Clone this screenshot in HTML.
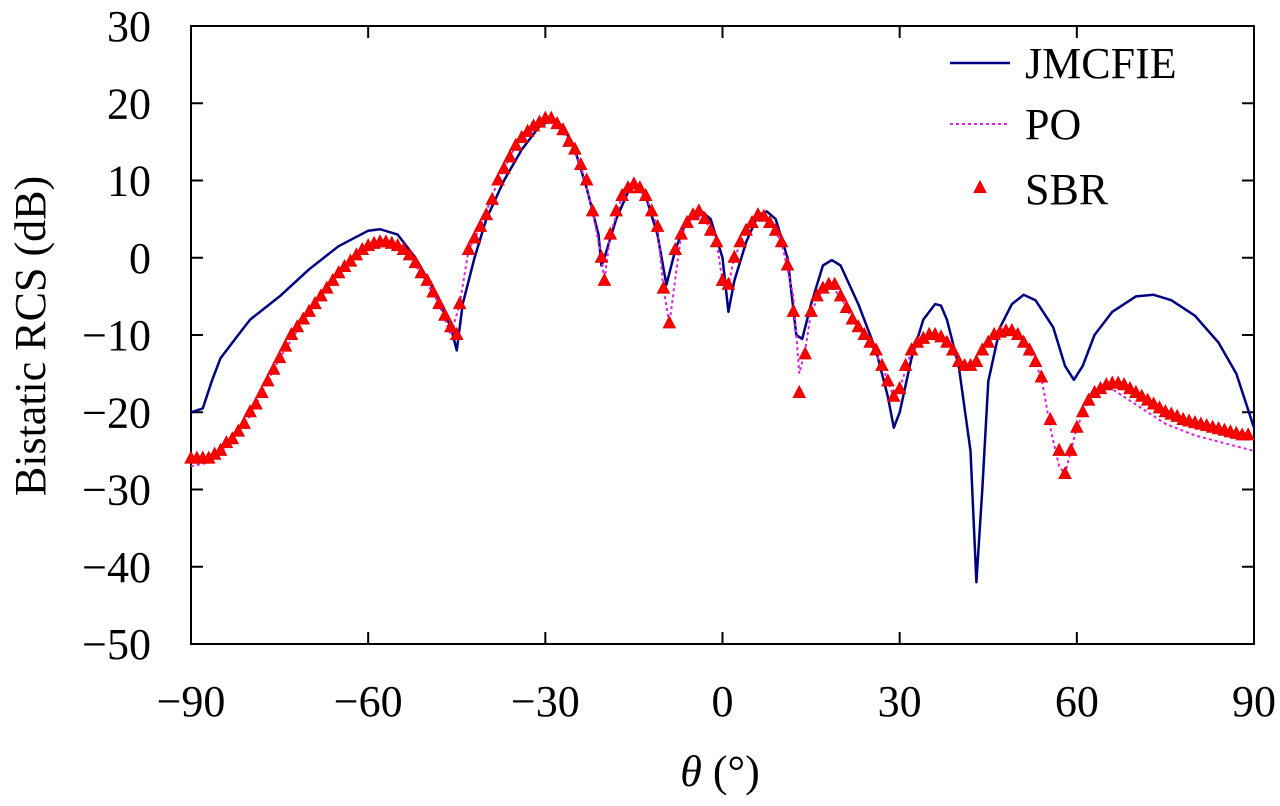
<!DOCTYPE html>
<html><head><meta charset="utf-8">
<style>
body{margin:0;background:#fff;}
svg text{font-family:"Liberation Serif","DejaVu Serif",serif;fill:#000;}
</style></head>
<body>
<svg id="chart" width="1280" height="801" xmlns="http://www.w3.org/2000/svg">
<g id="axes"></g>
<g id="series"></g>
<g id="legend"></g>
</svg>
<script>
const xTicks=[-90,-60,-30,0,30,60,90];
const yTicks=[30,20,10,0,-10,-20,-30,-40,-50];
const jmX=[-90,-88,-86.5,-85,-82,-80,-75,-70,-65,-60,-58,-55,-52,-49,-46,-45,-44,-42,-40,-37,-34,-31,-29,-27,-25,-23,-21,-20.5,-20,-18,-16,-15,-13,-11,-9.5,-8,-6,-4,-2,0,1,2,4,6,7.5,9,11,12.5,13.5,15,17,18.5,20,23,26,28,29,30,32,34,36,37,38,40,42,43,44,45,47,49,51,53,56,58,59.5,61,63,66,70,73,76,80,84,87,90];
const jmY=[-20,-19.5,-16,-13,-10,-8,-5,-1.5,1.5,3.5,3.7,3,0,-4,-9,-12,-6,0,5,10,14,17,17.8,17,14,9,3,-1,0,5,8.5,9.5,8,3,-3.5,1,5,6.3,5,0,-7,-3,2,5.5,6,5,0,-10,-10.5,-6,-1,-0.3,-1,-6,-12,-18,-22,-20,-13,-8,-6,-6.2,-8,-14,-25,-42,-30,-16,-9,-6,-4.8,-5.5,-9,-14,-15.8,-14,-10,-7,-5,-4.8,-5.5,-7.5,-11,-15,-22];
const sbrX=[-90,-89,-88,-87,-86,-85,-84,-83,-82,-81,-80,-79,-78,-77,-76,-75,-74,-73,-72,-71,-70,-69,-68,-67,-66,-65,-64,-63,-62,-61,-60,-59,-58,-57,-56,-55,-54,-53,-52,-51,-50,-49,-48,-47,-46,-45,-44.5,-43,-42,-41,-40,-39,-38,-37,-36,-35,-34,-33,-32,-31,-30,-29,-28,-27,-26,-25,-24,-23,-22,-20.5,-20,-19,-18,-17,-16,-15,-14,-13,-12,-11,-10,-9,-8,-7,-6,-5,-4,-3,-2,-1,0,1,2,3,4,5,6,7,8,9,10,11,12,13,14,15,16,17,18,19,20,21,22,23,24,25,26,27,28,29,30,31,32,33,34,35,36,37,38,39,40,41,42,43,44,45,46,47,48,49,50,51,52,53,54,55.5,57,58,59,60,61,62,63,64,65,66,67,68,69,70,71,72,73,74,75,76,77,78,79,80,81,82,83,84,85,86,87,88,89,90];
const sbrY=[-26,-26,-26,-26,-25.5,-25,-24,-23.5,-22.5,-21.5,-20,-19,-17.5,-16,-14.5,-13,-11.5,-10,-9,-8,-7,-6,-5,-4,-3,-2,-1.2,-0.5,0.3,1,1.5,1.8,2,2,1.8,1.5,1,0.3,-0.7,-2,-3,-4.5,-6,-7.5,-9,-10,-6,1,2.5,4,5.5,7.5,10,11.5,13,14.5,15.5,16.3,17,17.5,18,18,17.3,16.5,15,14,12,10,6,0,-3,3,6,8,9,9.5,9,8,6,4,-4,-8.5,1,3,4.5,5.5,6,5,3.5,2,-3,-3.5,0,2,3.5,4.5,5.5,5.3,4.5,3.5,2,-1,-7,-17.5,-12.5,-7,-5,-4,-3.5,-3.5,-5,-6.5,-8,-9,-10,-11,-12,-14,-16,-18,-17,-14,-12,-11,-10.5,-10,-10,-10.3,-11,-12,-13.5,-14,-14,-13.5,-12,-11,-10,-9.7,-9.5,-9.5,-10,-11,-12,-13.5,-15.5,-21,-25,-28,-25,-22,-20,-18.5,-17.5,-17,-16.5,-16.3,-16.3,-16.5,-17,-17.5,-18,-18.5,-19,-19.5,-20,-20.3,-20.6,-21,-21.2,-21.4,-21.6,-21.8,-22,-22.2,-22.4,-22.6,-22.8,-23,-23];
const poX=[-90,-87,-84,-80,-75,-70,-65,-60,-57,-54,-51,-48,-46,-44.5,-43,-41,-38,-35,-32,-30,-28,-26,-24,-22,-20.5,-20,-19,-17,-15,-13,-11,-10,-9,-7,-5,-3,-1,0,1,2,4,6,8,10,12,12.5,13,14,15,17,18,20,22,25,27,29,30,32,34,36,38,40,42,44,46,48,50,52,54,55.5,57,58,59,60,62,64,66,70,75,80,85,90];
const poY=[-27,-26.5,-24.5,-20.5,-13,-7,-2,1.5,2,1,-2,-6,-10,-6,1,4,10,14.5,17,18,17.3,15,12,6,0,-3,3,8,9.5,8,4,-4,-8.5,3,5.5,5,2,-3,-3.5,0,3.5,5.5,4.5,2,-5,-10,-15,-12,-7,-4,-3.5,-5,-8,-11,-14,-18,-17,-12,-10.5,-10,-11,-13.5,-14,-12,-10,-9.5,-10,-12,-15.5,-22,-27,-28,-25,-22,-18.5,-17,-17,-19,-21.5,-23,-24,-25];

const NS="http://www.w3.org/2000/svg";
const L=191,R=1254,T=26,B=644;
const sx=v=>L+(v+90)/180*(R-L);
const sy=v=>T+(30-v)/80*(B-T);
function mk(tag,attrs,parent,text){const e=document.createElementNS(NS,tag);for(const k in attrs)e.setAttribute(k,attrs[k]);if(text!==undefined)e.textContent=text;parent.appendChild(e);return e;}
const axes=document.getElementById('axes');
const fr=mk('rect',{x:L,y:T,width:R-L,height:B-T,fill:'none',stroke:'#000','stroke-width':2},axes);


const fmt=v=>v<0?'−'+Math.abs(v):String(v);
xTicks.forEach(v=>{
  const x=sx(v);
  const t1=mk('line',{x1:x,x2:x,y1:B,y2:B-12,stroke:'#000','stroke-width':2},axes);
  
  
  mk('line',{x1:x,x2:x,y1:T,y2:T+12,stroke:'#000','stroke-width':2},axes);
  const tx=mk('text',{x:x,y:716,'font-size':44,'text-anchor':'middle'},axes,fmt(v));
  
  
});
yTicks.forEach(v=>{
  const y=sy(v);
  const t1=mk('line',{x1:L,x2:L+12,y1:y,y2:y,stroke:'#000','stroke-width':2},axes);
  
  
  mk('line',{x1:R,x2:R-12,y1:y,y2:y,stroke:'#000','stroke-width':2},axes);
  const tx=mk('text',{x:151,y:y+15,'font-size':44,'text-anchor':'end'},axes,fmt(v));
  
  
});
const xt=mk('text',{x:720,y:786,'font-size':44,'text-anchor':'middle'},axes);


mk('tspan',{'font-style':'italic'},xt,'θ');mk('tspan',{},xt,' (°)');
const yt=mk('text',{x:0,y:0,'font-size':44,'text-anchor':'middle',transform:'translate(45,336) rotate(-90)'},axes,'Bistatic RCS (dB)');



const ser=document.getElementById('series');
const path=(xs,ys)=>xs.map((x,i)=>(i?'L':'M')+sx(x).toFixed(1)+','+sy(ys[i]).toFixed(1)).join('');
const jm=mk('path',{d:path(jmX,jmY),fill:'none',stroke:'#000080','stroke-width':2.5,'stroke-linejoin':'round'},ser);


const po=mk('path',{d:path(poX,poY),fill:'none',stroke:'#e020e0','stroke-width':2,'stroke-dasharray':'3,3'},ser);


const tri=(x,y)=>`${x},${y-7} ${x-6},${y+4.5} ${x+6},${y+4.5}`;
sbrX.forEach((v,i)=>{
  const p=mk('polygon',{points:tri(sx(v),sy(sbrY[i])),fill:'#ff0000',stroke:'#e00000','stroke-width':1},ser);
  
  
});

const lg=document.getElementById('legend');
const e1=mk('line',{x1:950,x2:1010,y1:63,y2:63,stroke:'#000080','stroke-width':2.5},lg);


const l1=mk('text',{x:1025,y:78,'font-size':44},lg,'JMCFIE');


const e2=mk('line',{x1:950,x2:1010,y1:124,y2:124,stroke:'#e020e0','stroke-width':2,'stroke-dasharray':'3,3'},lg);


const l2=mk('text',{x:1025,y:139,'font-size':44},lg,'PO');


const e3=mk('polygon',{points:tri(980,188),fill:'#ff0000',stroke:'#e00000'},lg);


const l3=mk('text',{x:1025,y:204,'font-size':44},lg,'SBR');


</script>
</body></html>
